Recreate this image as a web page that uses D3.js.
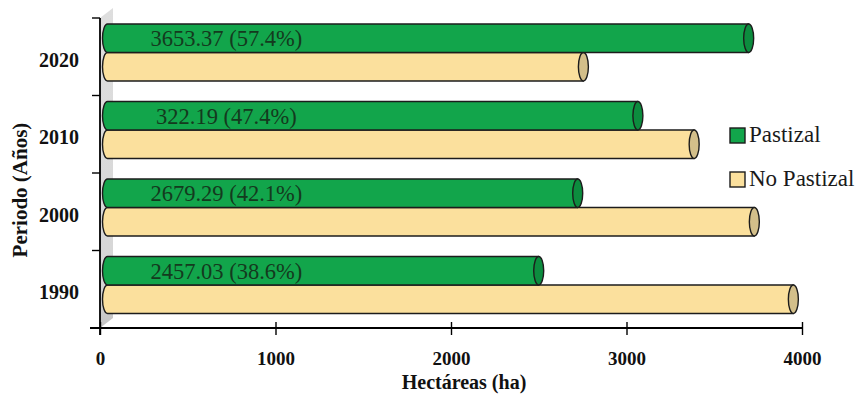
<!DOCTYPE html>
<html>
<head>
<meta charset="utf-8">
<script src="https://cdn.jsdelivr.net/npm/d3@7"></script>
<style>
  html, body { margin: 0; padding: 0; background: #ffffff; }
  svg { display: block; }
  svg text { font-family: "Liberation Serif", "DejaVu Serif", serif !important; }
</style>
</head>
<body>
<svg id="chart" width="859" height="394"></svg>
<script>
// Periods (top to bottom) and land-cover areas in hectares
const years = ["2020", "2010", "2000", "1990"];
const series = ["Pastizal", "No Pastizal"];
const pastizal = [3653.37, 3022.19, 2679.29, 2457.03];
const noPastizal = [2711.6, 3342.8, 3685.7, 3908.0];
const pastizalLabels = ["3653.37 (57.4%)", "322.19 (47.4%)", "2679.29 (42.1%)", "2457.03 (38.6%)"];
const xTicks = [0, 1000, 2000, 3000, 4000];

const colors = {
  "Pastizal": { body: "#12a54b", cap: "#0c8c3e" },
  "No Pastizal": { body: "#fbe09d", cap: "#d3bf8a" }
};
const stroke = "#1c1c1c";
const serif = "'Liberation Serif', 'DejaVu Serif', serif";

const svg = d3.select("#chart");

const x = d3.scaleLinear().domain([0, 4000]).range([100, 802]);
const y = d3.scaleBand().domain(years).range([18, 328]).paddingInner(0).paddingOuter(0);
const bw = y.bandwidth();
const ySub = d3.scaleBand().domain(series).range([bw * 0.142, bw * 0.877]).padding(0);
const barH = ySub.bandwidth();

// 3D depth of the plot: the wall is drawn full depth, bars sit mid-depth
const depthX = 13, depthY = -10;
const dx = 7.5, dy = depthY / 2;

// Side wall with a soft shading
const defs = svg.append("defs");
const wallGrad = defs.append("linearGradient").attr("id", "wallGrad")
  .attr("x1", 0).attr("y1", 0).attr("x2", 0).attr("y2", 1);
wallGrad.append("stop").attr("offset", "0%").attr("stop-color", "#dedede");
wallGrad.append("stop").attr("offset", "85%").attr("stop-color", "#d6d6d6");
wallGrad.append("stop").attr("offset", "100%").attr("stop-color", "#c4c4c4");

const [yTop, yBot] = y.range();
svg.append("path")
  .attr("d", `M${x(0)},${yTop} L${x(0) + depthX},${yTop + depthY} L${x(0) + depthX},${yBot + depthY} L${x(0)},${yBot} Z`)
  .attr("fill", "url(#wallGrad)");

// Rows of cylinders
const rows = years.map((yr, i) => ({
  year: yr,
  bars: [
    { key: "Pastizal", value: pastizal[i] },
    { key: "No Pastizal", value: noPastizal[i] }
  ],
  label: pastizalLabels[i]
}));

const rowG = svg.append("g").selectAll("g.row").data(rows).join("g")
  .attr("class", "row")
  .attr("transform", d => `translate(${dx},${y(d.year) + dy})`);

const rx = 5;
function cylinderBody(v) {
  const x0 = x(0), x1 = x(v);
  return `M${x0},0 L${x1},0 L${x1},${barH} L${x0},${barH} A${rx},${barH / 2} 0 0 1 ${x0},0 Z`;
}

// Draw the lower series first so the upper cylinder's outline stays on top
const barG = rowG.selectAll("g.bar").data(d => d.bars.slice().reverse()).join("g")
  .attr("class", "bar")
  .attr("transform", d => `translate(0,${ySub(d.key)})`);

barG.append("path")
  .attr("d", d => cylinderBody(d.value))
  .attr("fill", d => colors[d.key].body)
  .attr("stroke", stroke)
  .attr("stroke-width", 1.4)
  .attr("stroke-linejoin", "round");

barG.append("ellipse")
  .attr("cx", d => x(d.value))
  .attr("cy", barH / 2)
  .attr("rx", rx)
  .attr("ry", barH / 2)
  .attr("fill", d => colors[d.key].cap)
  .attr("stroke", stroke)
  .attr("stroke-width", 1.4);

// Value labels inside the Pastizal cylinders
rowG.append("text")
  .attr("x", x(720) - dx)
  .attr("y", ySub("Pastizal") + barH / 2 + 8)
  .attr("text-anchor", "middle")
  .attr("font-family", serif)
  .attr("font-size", 22.5)
  .attr("fill", "#143a1e")
  .text(d => d.label);

// X axis
const xAxis = d3.axisBottom(x).tickValues(xTicks).tickFormat(d3.format("d")).tickSize(7);
const gx = svg.append("g").attr("transform", `translate(0,${yBot})`).call(xAxis)
  .attr("font-family", serif);
gx.select(".domain").remove();
gx.selectAll(".tick line").attr("y1", -6).attr("y2", 7).attr("stroke", "#000").attr("stroke-width", 1.4);
gx.selectAll(".tick text")
  .attr("y", 37)
  .attr("dy", 0)
  .attr("font-size", 19)
  .attr("font-weight", "bold")
  .attr("fill", "#111");
svg.append("line")
  .attr("x1", x(0) - 10).attr("x2", x(4000))
  .attr("y1", yBot).attr("y2", yBot)
  .attr("stroke", "#000").attr("stroke-width", 1.8);

// Y axis: line, boundary ticks, period labels
svg.append("line")
  .attr("x1", x(0)).attr("x2", x(0))
  .attr("y1", yTop).attr("y2", yBot + 7)
  .attr("stroke", "#000").attr("stroke-width", 1.8);
const boundaries = years.map(d => y(d)).concat([yBot]);
svg.append("g").selectAll("line").data(boundaries).join("line")
  .attr("x1", x(0) - 8).attr("x2", x(0))
  .attr("y1", d => d).attr("y2", d => d)
  .attr("stroke", "#000").attr("stroke-width", 1.4);
svg.append("g").selectAll("text").data(years).join("text")
  .attr("x", 79)
  .attr("y", d => y(d) + bw / 2 + 10)
  .attr("text-anchor", "end")
  .attr("font-family", serif)
  .attr("font-size", 20)
  .attr("font-weight", "bold")
  .attr("fill", "#111")
  .text(d => d);

// Axis titles
svg.append("text")
  .attr("x", 464).attr("y", 389)
  .attr("text-anchor", "middle")
  .attr("font-family", serif)
  .attr("font-size", 20)
  .attr("font-weight", "bold")
  .attr("fill", "#111")
  .text("Hectáreas (ha)");
svg.append("text")
  .attr("transform", `translate(27,${190}) rotate(-90)`)
  .attr("text-anchor", "middle")
  .attr("font-family", serif)
  .attr("font-size", 21)
  .attr("font-weight", "bold")
  .attr("fill", "#111")
  .text("Periodo (Años)");

// Legend
const legend = svg.append("g").selectAll("g").data(series).join("g")
  .attr("transform", (d, i) => `translate(730,${128 + i * 44})`);
legend.append("rect")
  .attr("width", 15).attr("height", 15)
  .attr("fill", d => colors[d].body)
  .attr("stroke", stroke).attr("stroke-width", 1.4);
legend.append("text")
  .attr("x", 19).attr("y", 14)
  .attr("font-family", serif)
  .attr("font-size", 23)
  .attr("fill", "#1a1a1a")
  .text(d => d);
</script>
</body>
</html>
